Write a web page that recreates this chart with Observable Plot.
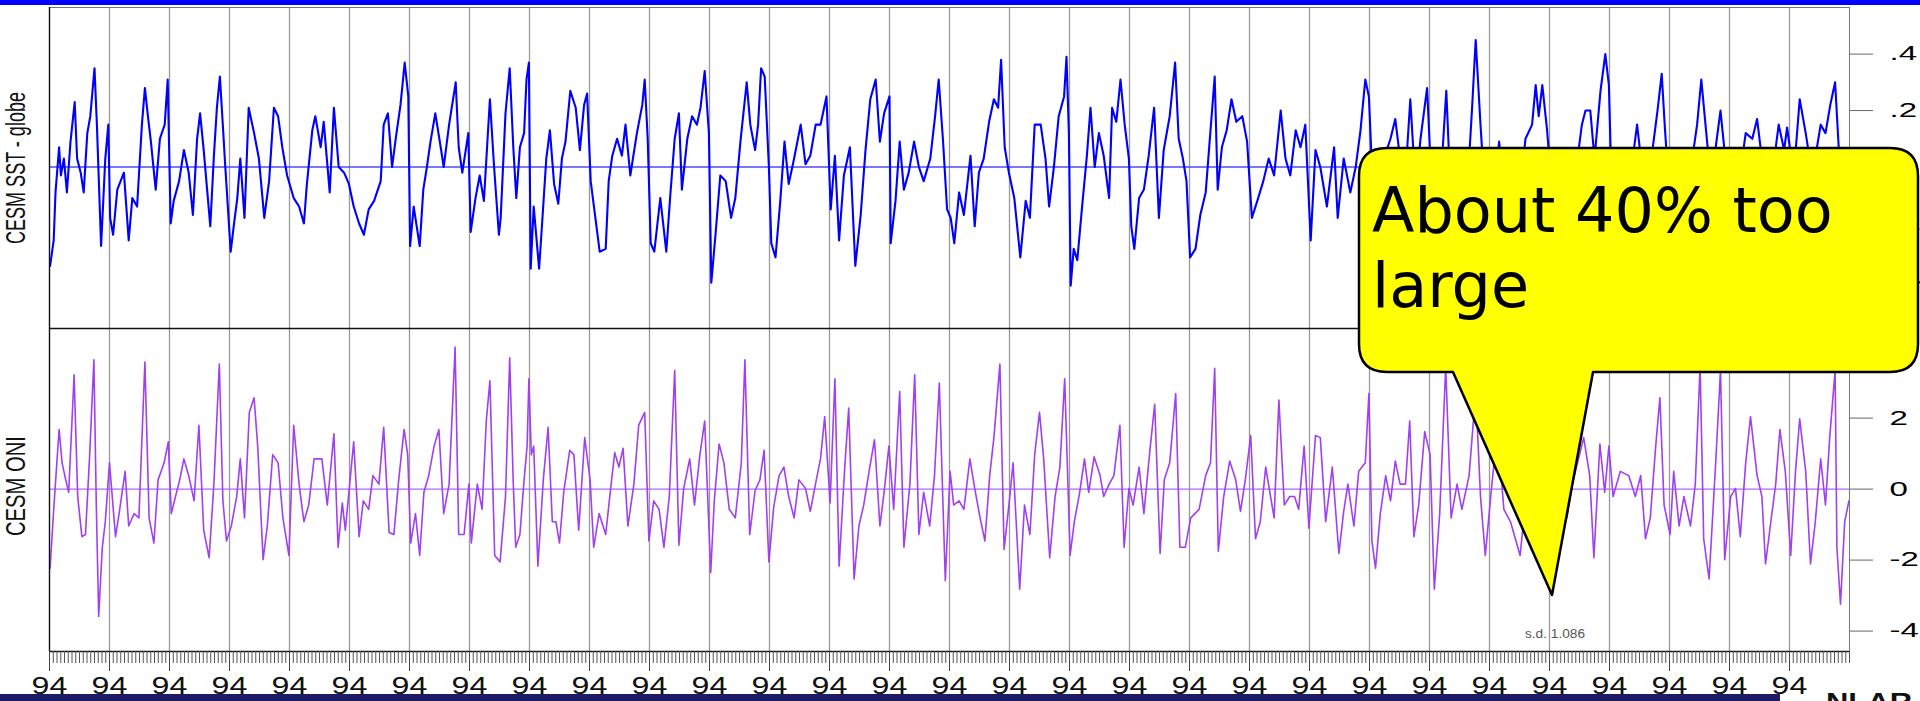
<!DOCTYPE html>
<html><head><meta charset="utf-8">
<script src="https://cdn.jsdelivr.net/npm/d3@7"></script>
<script src="https://cdn.jsdelivr.net/npm/@observablehq/plot@0.6"></script>
<style>
html,body{margin:0;padding:0;background:#fff;width:1920px;height:701px;overflow:hidden;}
#wrap{position:relative;width:1920px;height:701px;}
#top,#bot,#over{position:absolute;left:0;}
#top{top:0px}
#bot{top:328px}
#over{top:0px;pointer-events:none}
</style></head>
<body>
<div id="wrap"><div id="top"></div><div id="bot"></div>
<svg id="over" width="1920" height="701" xmlns="http://www.w3.org/2000/svg"></svg></div>
<script>
// ---- data: [year, value] ----
const sstSeries = [
[0.1,-0.35],[0.7,-0.26],[1.0,-0.09],[1.6,0.07],[1.9,-0.03],[2.4,0.03],[2.9,-0.09],[3.5,0.09],[4.2,0.23],[4.6,0.03],
[5.2,-0.02],[5.7,-0.09],[6.3,0.12],[6.8,0.18],[7.5,0.35],[7.9,0.15],[8.6,-0.28],[9.3,0.03],[9.8,0.15],[10.1,-0.18],
[10.6,-0.24],[11.3,-0.08],[12.4,-0.02],[13.2,-0.26],[13.8,-0.11],[14.6,-0.14],[15.4,0.15],[15.9,0.28],[16.4,0.18],[16.9,0.09],
[17.7,-0.08],[18.4,0.10],[19.2,0.15],[19.7,0.31],[20.2,-0.20],[20.7,-0.12],[21.6,-0.05],[22.4,0.06],[23.2,-0.02],[23.9,-0.17],
[24.6,0.10],[25.1,0.19],[25.7,0.06],[26.8,-0.21],[27.4,0.04],[27.9,0.21],[28.4,0.32],[28.8,0.18],[29.3,0.00],[30.2,-0.30],
[30.7,-0.21],[31.3,-0.11],[31.8,0.03],[32.5,-0.18],[33.2,0.21],[34.1,0.12],[34.9,0.03],[35.8,-0.18],[36.6,-0.05],[37.4,0.21],
[38.1,0.18],[38.8,0.07],[39.6,-0.03],[40.7,-0.11],[41.6,-0.14],[42.4,-0.20],[42.9,-0.06],[43.8,0.13],[44.3,0.18],[45.2,0.07],
[45.7,0.16],[46.7,-0.09],[47.4,0.21],[48.2,0.00],[49.1,-0.02],[49.9,-0.06],[50.7,-0.14],[51.6,-0.20],[52.4,-0.24],[53.2,-0.15],
[54.1,-0.12],[55.2,-0.05],[55.7,0.15],[56.4,0.19],[57.1,0.00],[57.7,0.10],[58.5,0.22],[59.2,0.37],[59.8,0.25],[60.1,-0.28],
[60.7,-0.14],[61.7,-0.28],[62.3,-0.08],[62.9,0.00],[63.5,0.09],[64.3,0.19],[65.2,0.07],[65.7,0.00],[66.6,0.15],[67.7,0.30],
[68.2,0.07],[68.8,-0.02],[69.8,0.12],[70.2,-0.23],[71.0,-0.11],[71.7,-0.03],[72.4,-0.12],[73.4,0.24],[74.1,0.00],[74.9,-0.24],
[75.2,-0.18],[76.0,0.19],[76.7,0.35],[77.3,0.07],[77.8,-0.11],[78.4,0.07],[79.1,0.12],[79.5,0.31],[79.9,0.37],[80.2,-0.36],
[80.7,-0.14],[81.6,-0.36],[82.1,-0.20],[82.8,0.03],[83.4,0.13],[84.1,-0.06],[84.8,-0.13],[85.4,0.03],[86.0,0.09],[86.8,0.27],
[87.7,0.21],[88.4,0.06],[89.1,0.22],[89.6,0.26],[90.2,-0.05],[90.8,-0.15],[91.7,-0.30],[92.7,-0.29],[93.2,-0.05],[93.8,0.04],
[94.6,0.10],[95.4,0.04],[96.0,0.15],[96.8,-0.03],[97.9,0.12],[98.8,0.22],[99.2,0.31],[99.7,0.10],[100.2,-0.27],[100.8,-0.30],
[101.8,-0.11],[102.8,-0.30],[103.5,-0.09],[104.2,0.10],[104.9,0.19],[105.4,-0.08],[106.3,0.10],[107.1,0.18],[107.9,0.15],[108.5,0.21],
[109.2,0.34],[109.9,0.12],[110.3,-0.41],[111.0,-0.24],[111.8,-0.03],[112.7,-0.05],[113.6,-0.18],[114.3,-0.11],[115.2,0.10],[116.2,0.30],
[116.8,0.15],[117.6,0.06],[118.1,0.15],[118.6,0.35],[119.2,0.32],[119.9,0.00],[120.3,-0.27],[121.0,-0.32],[121.8,-0.12],[122.5,0.09],
[123.2,-0.06],[124.1,0.03],[125.2,0.15],[126.0,0.01],[126.8,0.04],[127.7,0.15],[128.5,0.15],[129.5,0.25],[130.2,-0.15],[130.9,0.04],
[131.6,-0.26],[132.4,-0.03],[133.4,0.07],[134.3,-0.35],[135.2,-0.17],[136.0,0.06],[136.8,0.24],[137.7,0.31],[138.4,0.09],[139.1,0.19],
[140.0,0.25],[140.2,-0.27],[141.0,-0.12],[141.7,0.09],[142.4,-0.08],[143.2,-0.02],[144.1,0.09],[144.9,0.00],[145.7,-0.05],[146.8,0.03],
[147.6,0.18],[148.2,0.31],[148.9,0.10],[149.6,-0.15],
[150.2,-0.18],[150.8,-0.27],[151.6,-0.09],[152.4,-0.17],[153.5,0.04],[154.2,-0.21],[154.9,-0.02],[155.7,0.03],[156.6,0.16],[157.4,0.24],
[158.1,0.21],[158.6,0.38],[159.2,0.07],[159.9,-0.02],[160.8,-0.11],[161.8,-0.32],[162.7,-0.12],[163.4,-0.18],[164.2,0.15],[165.2,0.15],
[166.0,0.03],[166.6,-0.14],[167.4,0.00],[168.2,0.18],[169.1,0.25],[169.5,0.39],[169.9,0.12],[170.2,-0.42],[170.7,-0.29],[171.3,-0.33],
[172.1,-0.14],[172.9,0.04],[173.5,0.21],[174.2,0.00],[174.9,0.12],[175.7,0.04],[176.6,-0.11],[177.1,0.21],[177.8,0.16],[178.5,0.31],
[179.2,0.15],[179.9,0.03],[180.3,-0.21],[180.8,-0.29],[181.6,-0.11],[182.4,-0.08],[183.2,0.04],[184.1,0.21],[184.9,-0.18],[185.7,0.06],
[186.7,0.18],[187.6,0.37],[188.2,0.10],[188.9,0.03],[189.5,-0.05],[190.1,-0.32],[191.0,-0.29],[191.8,-0.17],[192.7,-0.09],[193.5,0.13],
[194.2,0.32],[194.7,-0.08],[195.4,0.07],[196.2,0.13],[197.0,0.24],[197.8,0.16],[198.8,0.18],[199.6,0.09],[200.4,-0.18],[201.3,-0.12],
[202.3,-0.05],[203.2,0.03],[204.1,-0.03],[205.2,0.20],[206.0,0.03],[206.8,-0.03],[207.7,0.13],[208.5,0.07],[209.3,0.15],[210.2,-0.26],
[211.0,0.06],[211.8,0.00],[212.9,-0.14],[214.1,0.07],[214.7,-0.18],[215.7,0.03],[216.8,-0.09],[217.7,0.00],[218.5,0.13],[219.3,0.31],
[219.9,0.25],[220.4,0.00],[221.3,-0.03],[222.4,0.03],[223.5,0.10],[224.3,0.17],[225.1,0.03],
[226.0,-0.03],[226.8,0.24],[227.7,-0.08],[228.5,0.10],[229.6,0.28],[230.2,0.00],[231.3,-0.12],[232.1,0.03],[232.8,0.27],
[233.5,-0.08],[234.6,0.06],[235.4,-0.18],[236.6,0.03],[237.1,0.21],[237.7,0.45],[238.1,0.30],[238.5,0.15],[239.3,-0.12],[240.4,-0.18],
[241.6,0.09],[242.7,-0.15],[244.1,-0.24],[245.2,-0.06],[246.0,0.10],[247.1,0.15],[247.7,0.29],[248.2,0.18],[248.8,0.29],[249.6,0.13],
[250.4,-0.08],[251.8,-0.24],[252.9,-0.12],[254.3,-0.03],[255.4,0.15],[256.0,0.20],[256.8,0.20],[257.5,0.03],[258.5,0.27],[259.3,0.40],
[259.9,0.29],[260.3,-0.03],[261.3,-0.18],[262.4,-0.12],[263.5,-0.03],[264.6,0.15],[265.4,0.00],[266.6,-0.03],[267.4,0.10],[268.0,0.20],
[268.7,0.33],[269.2,0.15],[269.9,-0.08],[271.3,-0.18],[272.7,-0.06],[273.8,0.03],[274.6,0.15],[275.3,0.31],[276.0,0.15],[276.8,-0.03],
[277.7,0.07],[278.5,0.20],[279.3,0.03],[280.4,-0.11],[281.6,-0.05],[282.7,0.12],[283.8,0.10],[284.6,0.17],[285.4,0.03],[286.8,-0.08],
[288.2,0.15],[289.1,0.06],[289.6,0.14],[290.7,-0.03],[291.7,0.24],[292.7,0.12],[293.8,-0.03],[295.2,0.15],[296.0,0.12],[296.8,0.22],
[297.6,0.30],[298.2,0.07],[299.3,-0.15],[299.9,-0.06]
];

const oniSeries = [
[0.1,-2.23],[0.7,-0.57],[1.6,1.68],[2.1,0.74],[2.7,0.26],[3.2,-0.09],[4.1,3.22],[4.7,-0.21],[5.4,-1.34],[6.0,-1.28],
[6.7,0.97],[7.4,3.64],[7.8,-0.45],[8.2,-3.59],[8.8,-1.64],[9.3,-0.92],[10.0,0.74],[11.0,-1.34],[11.6,-0.69],[12.6,0.50],
[13.2,-1.04],[14.1,-0.69],[14.9,-0.81],[15.9,3.58],[16.6,-0.81],[17.4,-1.52],[18.1,0.26],[19.1,0.74],[19.8,1.33],[20.3,-0.69],
[21.0,-0.21],[21.7,0.26],[22.4,0.85],[23.2,0.38],[24.1,-0.33],[24.9,1.80],[25.7,-1.16],[26.6,-1.93],[27.4,0.14],[28.3,3.52],
[28.9,-0.33],[29.5,-1.46],[30.3,-1.04],[31.2,-0.21],[31.8,0.85],[32.5,-0.81],[33.3,2.16],[34.1,2.57],[34.7,1.21],[35.6,-1.99],
[36.3,-1.04],[37.2,0.97],[38.1,0.74],[38.9,-0.81],[39.9,-1.87],[40.7,1.80],[41.6,0.14],[42.4,-0.92],[43.2,-0.45],[44.1,0.85],
[45.4,0.85],[46.3,-0.45],[47.4,1.56],[48.1,-1.64],[48.8,-0.39],[49.3,-1.16],[50.7,1.33],[51.6,-1.34],[52.3,-0.33],[53.2,-0.57],
[53.9,0.38],[54.9,0.14],[55.7,1.74],[56.6,-1.22],[57.4,-1.28],[58.2,0.26],[59.1,1.68],[59.7,0.97],[60.2,-1.52],[61.0,-0.69],
[61.7,-1.87],[62.4,-0.09],[63.2,0.38],[64.1,1.21],[64.9,1.68],[65.7,-0.69],[66.6,0.14],[67.6,4.00],[68.2,-1.28],[69.1,-1.28],
[69.9,0.14],[70.3,-1.52],[71.3,0.14],[72.1,-0.57],[72.8,1.92],[73.4,3.05],[74.2,-1.87],[75.1,-2.05],
[76.0,-0.21],[76.7,3.70],[77.3,0.14],[77.7,-1.64],[78.4,-1.28],[79.1,0.26],[79.6,1.21],[79.9,3.11],[80.3,0.97],
[80.7,1.21],[81.4,-2.17],[82.3,0.26],[83.1,1.74],[83.8,-0.92],[84.4,-0.92],[85.0,-1.52],[85.7,-0.09],[86.7,1.09],[87.4,0.97],
[88.2,-1.16],[89.2,1.45],[90.1,0.26],[90.7,-1.64],[91.6,-0.69],[92.7,-1.28],[93.3,-0.33],[94.2,1.03],[94.9,0.62],[95.6,1.15],
[96.4,-1.04],[97.4,0.14],[98.2,1.80],[99.2,2.16],[99.9,-1.46],[100.7,-0.33],[101.6,-0.57],[102.4,-1.64],[103.3,-0.21],[104.2,3.34],
[104.9,-1.58],[105.7,0.02],[106.7,0.85],[107.5,-0.45],[108.4,0.97],[109.2,1.92],[110.2,-2.35],[110.8,-0.33],[111.6,1.27],[112.4,0.74],
[113.3,-0.57],[114.3,-0.81],[115.3,0.74],[115.9,3.64],[116.7,-1.28],[117.6,-0.04],[118.4,0.26],[119.1,1.09],[119.9,-2.05],[120.7,-0.51],
[121.6,0.38],[122.4,0.62],[123.2,-0.21],[124.1,-0.81],[124.9,0.26],[126.0,0.02],[126.8,-0.63],[127.8,0.26],[128.5,0.85],[129.2,2.04],
[130.1,-0.39],[130.9,3.11],[131.6,-2.17],[132.5,0.50],[133.2,2.28],[134.1,-2.53],[134.9,-1.04],[135.7,-0.45],[136.6,0.50],[137.5,1.39],
[138.4,-1.04],[139.1,-0.09],[139.9,1.21],[140.7,-0.57],[141.7,2.75],[142.4,-1.64],[143.4,0.14],[144.2,3.22],[144.9,-1.28],[145.7,-0.09],
[146.7,-1.04],[147.5,0.38],[148.3,2.99],[149.3,-2.58],[150.1,0.50],
[150.7,-0.45],[151.6,-0.33],[152.4,-0.57],[153.4,0.85],[154.2,0.02],[155.1,-0.81],[155.9,-1.46],[156.7,0.38],[157.4,1.45],[158.4,3.52],
[159.1,-1.70],[159.9,-0.45],[160.6,0.74],[161.7,-2.82],[162.5,-0.45],[163.4,-1.28],[164.2,0.97],[165.0,2.16],[165.7,0.85],[166.7,-1.93],
[167.6,-0.21],[168.4,0.62],[169.2,3.11],[170.1,-1.87],[170.8,-0.92],[171.7,-0.09],[172.5,0.85],[173.2,-0.09],[174.1,0.91],[175.1,0.38],
[175.7,-0.21],[176.6,0.14],[177.4,0.38],[178.4,1.80],[179.1,-1.64],[179.9,0.02],[180.6,-0.45],[181.6,0.62],[182.4,-0.69],[183.4,1.09],
[184.2,2.39],[185.1,-1.81],[185.8,0.26],[186.7,0.74],[187.7,2.69],[188.4,-1.64],[189.3,-1.64],[190.2,-0.81],[191.6,-0.57],[192.7,0.38],
[193.5,0.74],[194.2,3.40],[194.8,-1.75],[195.7,-0.21],[196.7,0.79],[197.7,0.26],[198.5,-0.63],[199.3,0.26],[200.2,1.51],[201.0,-1.40],
[201.8,-0.92],[202.7,0.62],[204.1,-0.81],[204.9,2.51],[205.8,-0.45],[206.7,-0.21],[207.5,-0.21],[208.2,-0.57],[209.1,1.21],[209.9,-1.10],
[211.0,1.51],[211.8,1.45],[212.7,-0.92],[213.8,0.62],[214.9,-1.81],[215.7,-0.63],[216.4,0.14],[217.4,-1.04],[218.2,0.50],[219.3,0.74],
[219.9,2.69],[220.4,-1.46],[221.0,-2.23],[221.8,-0.69],[222.7,0.38],[223.5,-0.33],[224.3,0.79],[225.1,0.14],
[226.0,0.14],[226.7,1.92],[227.4,-1.34],[228.2,-0.45],[229.2,1.62],[230.1,0.97],[230.8,-2.82],[231.7,-0.69],[232.7,3.46],
[233.6,-0.81],[234.6,0.14],[235.4,-0.57],[236.6,0.38],[237.7,2.75],[238.5,-0.21],[239.3,-1.87],[240.2,-0.21],[241.3,1.68],[242.4,-0.57],
[243.5,-0.92],[245.1,-1.87],[246.3,0.14],[247.9,1.92],[249.6,-0.45],[251.3,-1.04],[252.9,-0.81],[253.8,0.14],[255.7,1.45],[256.7,0.38],
[257.4,-1.93],[258.4,1.27],[259.2,-0.09],[259.9,1.21],[260.6,-0.21],[261.8,0.50],[263.2,0.38],[264.3,-0.21],[265.2,0.38],[266.0,-1.40],
[266.8,-0.81],[267.7,1.21],[268.4,2.57],[269.1,-0.45],[270.1,-1.28],[270.7,0.50],[271.6,-1.04],[272.4,-0.21],[273.5,-1.04],[274.3,0.14],
[275.1,3.46],[275.7,-1.40],[276.6,-2.53],[277.7,0.74],[278.5,3.34],[279.2,-1.99],[280.2,-0.21],[281.0,0.02],[281.8,-1.34],[282.7,0.74],
[283.5,2.04],[284.6,0.38],[285.4,-0.21],[286.0,-2.11],[286.8,-1.04],[287.7,0.14],[288.4,1.68],[289.3,0.50],[290.2,-1.87],[291.0,0.50],
[291.7,1.98],[292.7,0.50],[293.5,-2.11],[294.3,-0.92],[295.2,0.85],[296.0,-0.45],[296.7,1.45],[297.6,3.34],[297.9,-1.64],[298.5,-3.24],
[299.2,-0.92],[299.9,-0.33]
];

const xDomain = [0, 300];
const majorTicks = [0,10,20,30,40,50,60,70,80,90,100,110,120,130,140,150,160,170,180,190,200,210,220,230,240,250,260,270,280,290];
const minorTicks = d3.range(0, 300.001, 10 / 16);
const xTickLabel = "94";
const sstDomain = [-0.572, 0.565];
const sstTicks = [-0.4, -0.2, 0, 0.2, 0.4];
const oniDomain = [-4.575, 4.524];
const oniTicks = [-4, -2, 0, 2, 4];
const sstLabel = "CESM SST - globe";
const oniLabel = "CESM ONI";
const sdText = "s.d. 1.086";
const calloutLines = ["About 40% too", "large"];
const cornerText = "NLAR";

const fmtSst = d => d === 0 ? "0" : d3.format(".1f")(d).replace("0.", ".");
const fmtOni = d => String(d);

const baseStyle = {background: "transparent", overflow: "visible", fontFamily: "Liberation Sans, Arial, sans-serif", fontSize: "18px", color: "black"};

const topPlot = Plot.plot({
  width: 1920, height: 330,
  marginLeft: 49, marginRight: 71, marginTop: 7, marginBottom: 2,
  x: {domain: xDomain, axis: null},
  y: {domain: sstDomain},
  style: baseStyle,
  marks: [
    Plot.ruleX(majorTicks, {stroke: "#9a9a9a", strokeWidth: 1.3}),
    Plot.ruleY([0], {stroke: "#4a4aff", strokeWidth: 1.4}),
    Plot.line(sstSeries, {x: d => d[0], y: d => d[1], stroke: "#0000ff", strokeWidth: 2.1}),
    Plot.frame({stroke: "#777"}),
    Plot.ruleX([xDomain[0]], {stroke: "#111", strokeWidth: 1.3}),
    Plot.axisY(sstTicks, {anchor: "right", tickSize: 23, tickPadding: 17, tickFormat: fmtSst, stroke: "#666", fill: "black", fontSize: 20, label: null})
  ]
});

const botPlot = Plot.plot({
  width: 1920, height: 373,
  marginLeft: 49, marginRight: 71, marginTop: 0, marginBottom: 50,
  x: {domain: xDomain},
  y: {domain: oniDomain},
  style: baseStyle,
  marks: [
    Plot.ruleX(majorTicks, {stroke: "#9a9a9a", strokeWidth: 1.3}),
    Plot.ruleY([0], {stroke: "#b366ff", strokeWidth: 1.3}),
    Plot.line(oniSeries, {x: d => d[0], y: d => d[1], stroke: "#a040f0", strokeWidth: 1.6}),
    Plot.frame({stroke: "#777"}),
    Plot.ruleX([xDomain[0]], {stroke: "#111", strokeWidth: 1.3}),
    Plot.ruleY([oniDomain[1]], {stroke: "#111", strokeWidth: 1.5}),
    Plot.ruleY([oniDomain[0]], {stroke: "#111", strokeWidth: 1.3}),
    Plot.axisY(oniTicks, {anchor: "right", tickSize: 23, tickPadding: 17, tickFormat: fmtOni, stroke: "#666", fill: "black", fontSize: 20, label: null}),
    Plot.axisX(minorTicks, {anchor: "bottom", tickSize: 12, tickPadding: 0, tickFormat: () => "", stroke: "#555", label: null}),
    Plot.axisX(majorTicks, {anchor: "bottom", tickSize: 20, tickPadding: 6, tickFormat: () => xTickLabel, stroke: "#444", fill: "#111", fontSize: 23, label: null})
  ]
});

document.getElementById("top").appendChild(topPlot);
document.getElementById("bot").appendChild(botPlot);

// horizontally stretched tick labels, as in the source slide
function stretch(svg, k) {
  svg.querySelectorAll('g[aria-label$="tick label"] text').forEach(t => {
    const w = t.getComputedTextLength();
    if (w > 0) {
      t.setAttribute("textLength", (w * k).toFixed(1));
      t.setAttribute("lengthAdjust", "spacingAndGlyphs");
    }
  });
}
stretch(topPlot, 1.65);
stretch(botPlot, 1.4);
botPlot.querySelectorAll('g[aria-label="y-axis tick label"] text').forEach(t => {
  const w = t.getComputedTextLength();
  if (w > 0) t.setAttribute("textLength", (w * 1.65 / 1.4).toFixed(1));
});

// overlay: slide frame, axis titles, annotation and callout
const NS = "http://www.w3.org/2000/svg";
const over = document.getElementById("over");
function el(tag, attrs, text) {
  const e = document.createElementNS(NS, tag);
  for (const k in attrs) e.setAttribute(k, attrs[k]);
  if (text != null) e.textContent = text;
  over.appendChild(e);
  return e;
}
el("rect", {x: 0, y: 0, width: 1920, height: 5, fill: "#0000ff"});
el("text", {transform: "translate(25,168) rotate(-90)", "text-anchor": "middle", "font-family": "Liberation Sans, Arial, sans-serif", "font-size": 28, textLength: 152, lengthAdjust: "spacingAndGlyphs", fill: "#111"}, sstLabel);
el("text", {transform: "translate(25,486) rotate(-90)", "text-anchor": "middle", "font-family": "Liberation Sans, Arial, sans-serif", "font-size": 28, textLength: 100, lengthAdjust: "spacingAndGlyphs", fill: "#111"}, oniLabel);
el("text", {x: 1555, y: 638, "text-anchor": "middle", "font-family": "Liberation Sans, Arial, sans-serif", "font-size": 12, textLength: 60, lengthAdjust: "spacingAndGlyphs", fill: "#555"}, sdText);
el("path", {d: "M1387,148 H1890 Q1918,148 1918,176 V344 Q1918,372 1890,372 H1593 L1552,595 L1453,372 H1387 Q1359,372 1359,344 V176 Q1359,148 1387,148 Z", fill: "#ffff00", stroke: "#000", "stroke-width": 2.5, "stroke-linejoin": "round"});
el("text", {x: 1372, y: 232, "font-family": "DejaVu Sans, sans-serif", "font-size": 62, fill: "#000"}, calloutLines[0]);
el("text", {x: 1372, y: 307, "font-family": "DejaVu Sans, sans-serif", "font-size": 62, fill: "#000"}, calloutLines[1]);
el("rect", {x: 0, y: 694, width: 1780, height: 7, fill: "#1b1b66"});
el("text", {x: 1826, y: 710, "font-family": "Liberation Sans, Arial, sans-serif", "font-weight": "bold", "font-size": 24, textLength: 86, lengthAdjust: "spacingAndGlyphs", fill: "#111"}, cornerText);
</script>
</body></html>
